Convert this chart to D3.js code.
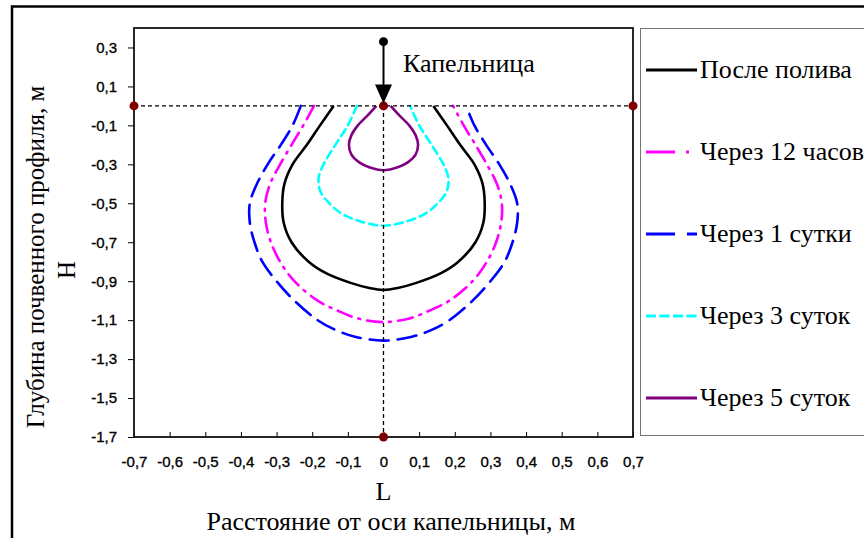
<!DOCTYPE html>
<html>
<head>
<meta charset="utf-8">
<script src="https://cdn.jsdelivr.net/npm/d3@7"></script>
<style>
  body { margin: 0; background: #fff; }
  svg { display: block; }
</style>
</head>
<body>
<div id="chart"></div>
<script>
// tick labels
const xTicks = [-0.7, -0.6, -0.5, -0.4, -0.3, -0.2, -0.1, 0, 0.1, 0.2, 0.3, 0.4, 0.5, 0.6, 0.7];
const yTicks = [0.3, 0.1, -0.1, -0.3, -0.5, -0.7, -0.9, -1.1, -1.3, -1.5, -1.7];

// series names (legend order)
const seriesNames = ["После полива", "Через 12 часов", "Через 1 сутки", "Через 3 суток", "Через 5 суток"];

// wetting contours: [depth H, half width L], the contours are symmetric about L = 0
const afterWatering = [[0, 0.14], [-0.1, 0.178], [-0.2, 0.215], [-0.3, 0.255], [-0.4, 0.278], [-0.5, 0.284],
  [-0.6, 0.28], [-0.7, 0.258], [-0.8, 0.21], [-0.86, 0.16], [-0.91, 0.09], [-0.935, 0.04], [-0.945, 0]];
const after12h = [[0, 0.195], [-0.1, 0.225], [-0.2, 0.258], [-0.3, 0.29], [-0.4, 0.318], [-0.5, 0.332],
  [-0.6, 0.33], [-0.7, 0.316], [-0.8, 0.29], [-0.9, 0.25], [-1.0, 0.185], [-1.05, 0.13], [-1.09, 0.075], [-1.11, 0]];
const after1d = [[0, 0.232], [-0.1, 0.255], [-0.2, 0.288], [-0.3, 0.325], [-0.4, 0.355], [-0.5, 0.375],
  [-0.6, 0.375], [-0.7, 0.362], [-0.8, 0.34], [-0.9, 0.3], [-1.0, 0.25], [-1.1, 0.185], [-1.15, 0.135],
  [-1.185, 0.08], [-1.205, 0]];
const after3d = [[0, 0.075], [-0.1, 0.1], [-0.2, 0.135], [-0.3, 0.168], [-0.37, 0.182], [-0.44, 0.177],
  [-0.5, 0.152], [-0.55, 0.12], [-0.59, 0.07], [-0.615, 0]];
const after5d = [[0, 0.02], [-0.05, 0.045], [-0.1, 0.072], [-0.15, 0.09], [-0.2, 0.097], [-0.25, 0.09],
  [-0.29, 0.068], [-0.315, 0.04], [-0.33, 0]];

// dripper and reference markers
const dripper = { x: 0, top: 0.33, tip: 0.012 };
const markers = [[-0.7, 0], [0, 0], [0.7, 0], [0, -1.7]];

const width = 864, height = 538;
const plot = { left: 134, right: 633, top: 28, bottom: 437 };
const serif = "'Liberation Serif', 'Times New Roman', serif";
const sans = "'Liberation Sans', Arial, sans-serif";

const styles = [
  { data: afterWatering, color: "#000000", dash: null, legendDash: null },
  { data: after12h, color: "#FF00FF", dash: "15,7,2,7", legendDash: "29,11,3,11" },
  { data: after1d, color: "#0000FF", dash: "19,9", legendDash: "29,12,12" },
  { data: after3d, color: "#00FFFF", dash: "8,5", legendDash: "10,3.5" },
  { data: after5d, color: "#800080", dash: null, legendDash: null },
];

const svg = d3.select("#chart").append("svg")
  .attr("width", width)
  .attr("height", height);

// outer frame
svg.append("rect")
  .attr("x", 12).attr("y", 6.5)
  .attr("width", 900).attr("height", 600)
  .attr("fill", "none")
  .attr("stroke", "#000")
  .attr("stroke-width", 2.5);

const x = d3.scaleLinear().domain([-0.7, 0.7]).range([plot.left, plot.right]);
const y = d3.scaleLinear().domain([-1.7, 0.4]).range([plot.bottom, plot.top]);

const fmt = d => (d === 0 ? "0" : String(d).replace(".", ","));

// axes
const xAxis = svg.append("g")
  .attr("transform", `translate(0, ${plot.bottom})`)
  .call(d3.axisBottom(x).tickValues(xTicks).tickFormat(fmt).tickSizeInner(-5).tickSizeOuter(0).tickPadding(19));
const yAxis = svg.append("g")
  .attr("transform", `translate(${plot.left}, 0)`)
  .call(d3.axisLeft(y).tickValues(yTicks).tickFormat(fmt).tickSizeInner(6).tickSizeOuter(0).tickPadding(11));

[xAxis, yAxis].forEach(g => {
  g.select(".domain").remove();
  g.selectAll("line").attr("stroke", "#000").attr("stroke-width", 1);
  g.selectAll("text")
    .attr("font-family", sans)
    .attr("font-size", 15)
    .attr("fill", "#000")
    .attr("stroke", "#000")
    .attr("stroke-width", 0.35);
});

// contour curves
const line = d3.line()
  .x(d => x(d[0]))
  .y(d => y(d[1]))
  .curve(d3.curveCatmullRom.alpha(0.5));

function contour(series) {
  const left = series.map(([h, w]) => [-w, h]);
  const right = series.slice(0, -1).reverse().map(([h, w]) => [w, h]);
  return left.concat(right);
}

styles.forEach(s => {
  svg.append("path")
    .datum(contour(s.data))
    .attr("d", line)
    .attr("fill", "none")
    .attr("stroke", s.color)
    .attr("stroke-width", 2.6)
    .attr("stroke-linecap", s.dash ? "round" : "butt")
    .attr("stroke-dasharray", s.dash);
});

// dashed guide lines
svg.append("line")
  .attr("x1", x(-0.7)).attr("x2", x(0.7))
  .attr("y1", y(0)).attr("y2", y(0))
  .attr("stroke", "#000").attr("stroke-width", 1.3)
  .attr("stroke-dasharray", "4,3");
svg.append("line")
  .attr("x1", x(0)).attr("x2", x(0))
  .attr("y1", y(0)).attr("y2", y(-1.7))
  .attr("stroke", "#000").attr("stroke-width", 1.3)
  .attr("stroke-dasharray", "4,3");

// plot border
svg.append("rect")
  .attr("x", plot.left).attr("y", plot.top)
  .attr("width", plot.right - plot.left)
  .attr("height", plot.bottom - plot.top)
  .attr("fill", "none")
  .attr("stroke", "#111")
  .attr("stroke-width", 1.8);

// reference markers
svg.selectAll("circle.marker")
  .data(markers)
  .enter()
  .append("circle")
  .attr("class", "marker")
  .attr("cx", d => x(d[0]))
  .attr("cy", d => y(d[1]))
  .attr("r", 4.5)
  .attr("fill", "#7F0000");

// dripper arrow
const dx = x(dripper.x), tipY = y(dripper.tip);
svg.append("line")
  .attr("x1", dx).attr("x2", dx)
  .attr("y1", y(dripper.top)).attr("y2", tipY - 14)
  .attr("stroke", "#000").attr("stroke-width", 2);
svg.append("circle")
  .attr("cx", dx).attr("cy", y(dripper.top))
  .attr("r", 4.5).attr("fill", "#000");
svg.append("path")
  .attr("d", `M${dx - 8.5},${tipY - 19} L${dx + 8.5},${tipY - 19} L${dx},${tipY} Z`)
  .attr("fill", "#000");
svg.append("text")
  .attr("x", 403).attr("y", 72)
  .attr("font-family", serif)
  .attr("font-size", 26)
  .attr("fill", "#000")
  .text("Капельница");

// axis titles
svg.append("text")
  .attr("x", x(0)).attr("y", 500)
  .attr("text-anchor", "middle")
  .attr("font-family", serif).attr("font-size", 26)
  .text("L");
svg.append("text")
  .attr("x", 391).attr("y", 530)
  .attr("text-anchor", "middle")
  .attr("font-family", serif).attr("font-size", 26)
  .text("Расстояние от оси капельницы, м");
svg.append("text")
  .attr("transform", "translate(44, 257) rotate(-90)")
  .attr("text-anchor", "middle")
  .attr("font-family", serif).attr("font-size", 25)
  .text("Глубина почвенного профиля, м");
svg.append("text")
  .attr("transform", "translate(75, 270) rotate(-90)")
  .attr("text-anchor", "middle")
  .attr("font-family", serif).attr("font-size", 25)
  .text("Н");

// legend
const legend = svg.append("g");
legend.append("rect")
  .attr("x", 640.5).attr("y", 28.5)
  .attr("width", 300).attr("height", 407)
  .attr("fill", "#fff")
  .attr("stroke", "#777")
  .attr("stroke-width", 1);

const legendY = d3.scalePoint().domain(seriesNames).range([70, 398]);

seriesNames.forEach((name, i) => {
  const s = styles[i];
  const ly = legendY(name);
  legend.append("line")
    .attr("x1", 646).attr("x2", 697)
    .attr("y1", ly).attr("y2", ly)
    .attr("stroke", s.color)
    .attr("stroke-width", 3)
    .attr("stroke-dasharray", s.legendDash);
  legend.append("text")
    .attr("x", 700).attr("y", ly + 8)
    .attr("font-family", serif).attr("font-size", 26)
    .attr("fill", "#000")
    .text(name);
});
</script>
</body>
</html>
